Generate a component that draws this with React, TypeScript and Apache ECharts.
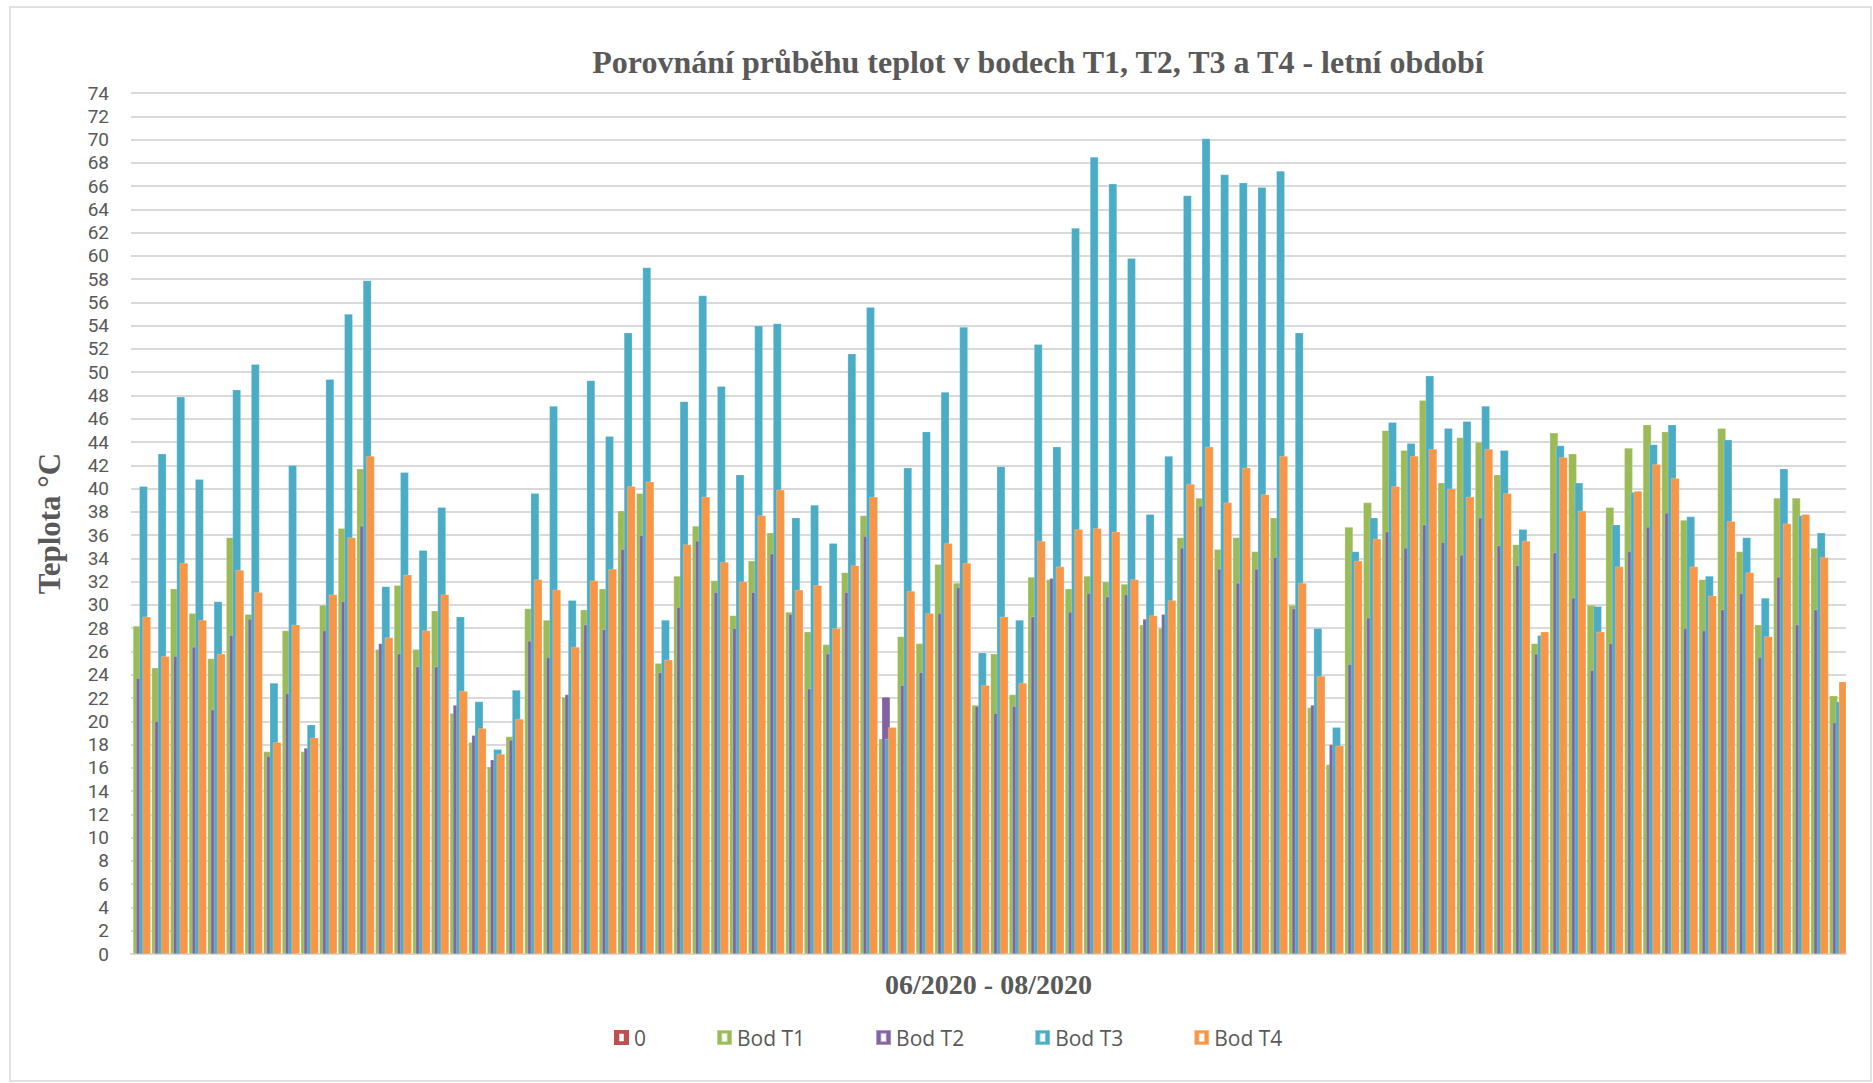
import React, { useEffect, useRef } from "react";
import * as echarts from "echarts";

const TITLE = "Porovnání průběhu teplot v bodech T1, T2, T3 a T4 - letní období";
const X_NAME = "06/2020 - 08/2020";
const Y_NAME = "Teplota °C";

const MONTHS = [6, 7, 8];
const DAYS_IN_MONTH = [30, 31, 31];
const categories: string[] = [];
MONTHS.forEach((m, i) => {
  for (let d = 1; d <= DAYS_IN_MONTH[i]; d++) categories.push(`${d}.${m}.2020`);
});

const SERIES_NAMES = ["0", "Bod T1", "Bod T2", "Bod T3", "Bod T4"];
const COLORS = ["#C0504D", "#9BBB59", "#8064A2", "#4BACC6", "#F79646"];

const zero = [
  0, 0, 0, 0, 0, 0, 0, 0, 0, 0, 0, 0, 0, 0, 0, 0, 0, 0, 0, 0, 0, 0, 0,
  0, 0, 0, 0, 0, 0, 0, 0, 0, 0, 0, 0, 0, 0, 0, 0, 0, 0, 0, 0, 0, 0, 0,
  0, 0, 0, 0, 0, 0, 0, 0, 0, 0, 0, 0, 0, 0, 0, 0, 0, 0, 0, 0, 0, 0, 0,
  0, 0, 0, 0, 0, 0, 0, 0, 0, 0, 0, 0, 0, 0, 0, 0, 0, 0, 0, 0, 0, 0, 0,
];

const bodT1 = [
  28.2, 24.6, 31.4, 29.3, 25.4, 35.8, 29.2, 17.4, 27.8, 17.4, 30.0, 36.6, 41.7, 26.2, 31.7, 26.2, 29.5, 20.7, 18.2, 16.1,
  18.7, 29.7, 28.7, 22.1, 29.6, 31.4, 38.1, 39.6, 25.0, 32.5, 36.8, 32.1, 29.1, 33.8, 36.2, 29.4, 27.7, 26.6, 32.8, 37.7,
  18.5, 27.3, 26.7, 33.5, 31.9, 21.4, 25.8, 22.3, 32.4, 32.2, 31.4, 32.5, 32.0, 31.8, 28.3, 28.0, 35.8, 39.2, 34.8, 35.8,
  34.6, 37.5, 30.0, 21.2, 16.3, 36.7, 38.8, 45.0, 43.3, 47.6, 40.5, 44.4, 44.0, 41.2, 35.2, 26.7, 44.8, 43.0, 30.0, 38.4,
  43.5, 45.5, 44.9, 37.3, 32.2, 45.2, 34.6, 28.3, 39.2, 39.2, 34.9, 22.2,
];

const bodT2 = [
  23.7, 20.0, 25.6, 26.4, 21.0, 27.4, 28.8, 17.0, 22.4, 17.7, 27.8, 30.3, 36.8, 26.7, 25.8, 24.7, 24.7, 21.4, 18.8, 16.7,
  18.4, 26.9, 25.5, 22.3, 28.3, 27.9, 34.8, 36.0, 24.2, 29.8, 35.5, 31.1, 28.0, 31.1, 34.4, 29.2, 22.8, 25.8, 31.1, 35.9,
  22.1, 23.1, 24.2, 29.3, 31.5, 21.3, 20.7, 21.3, 29.0, 32.3, 29.4, 31.0, 30.7, 30.9, 28.8, 29.2, 34.9, 38.5, 33.1, 31.9,
  33.1, 34.1, 29.7, 21.4, 18.0, 24.9, 28.9, 36.3, 34.9, 36.9, 35.4, 34.3, 37.5, 35.1, 33.4, 25.8, 34.5, 30.6, 24.4, 26.7,
  34.6, 36.7, 37.9, 28.0, 27.8, 29.6, 31.0, 25.5, 32.4, 28.3, 29.6, 19.9,
];

const bodT3 = [
  40.2, 43.0, 47.9, 40.8, 30.3, 48.5, 50.7, 23.3, 42.0, 19.7, 49.4, 55.0, 57.9, 31.6, 41.4, 34.7, 38.4, 29.0, 21.7, 17.6,
  22.7, 39.6, 47.1, 30.4, 49.3, 44.5, 53.4, 59.0, 28.7, 47.5, 56.6, 48.8, 41.2, 54.0, 54.2, 37.5, 38.6, 35.3, 51.6, 55.6,
  18.5, 41.8, 44.9, 48.3, 53.9, 25.9, 41.9, 28.7, 52.4, 43.6, 62.4, 68.5, 66.2, 59.8, 37.8, 42.8, 65.2, 70.1, 67.0, 66.3,
  65.9, 67.3, 53.4, 28.0, 19.5, 34.6, 37.5, 45.7, 43.9, 49.7, 45.2, 45.8, 47.1, 43.3, 36.5, 27.4, 43.7, 40.5, 29.9, 36.9,
  39.7, 43.8, 45.5, 37.6, 32.5, 44.2, 35.8, 30.6, 41.7, 37.7, 36.2, 21.7,
];

const bodT4 = [
  29.0, 25.6, 33.6, 28.7, 25.8, 33.0, 31.1, 18.2, 28.3, 18.6, 30.9, 35.8, 42.8, 27.2, 32.6, 27.8, 30.9, 22.6, 19.4, 17.2,
  20.2, 32.2, 31.3, 26.4, 32.1, 33.1, 40.2, 40.6, 25.3, 35.2, 39.3, 33.7, 32.0, 37.7, 39.9, 31.3, 31.7, 28.0, 33.4, 39.3,
  19.5, 31.2, 29.3, 35.3, 33.6, 23.1, 29.0, 23.3, 35.5, 33.3, 36.5, 36.6, 36.3, 32.2, 29.1, 30.4, 40.4, 43.6, 38.8, 41.8,
  39.5, 42.8, 31.9, 23.9, 17.9, 33.8, 35.7, 40.2, 42.8, 43.4, 40.0, 39.3, 43.4, 39.6, 35.5, 27.7, 42.7, 38.1, 27.7, 33.3,
  39.8, 42.1, 40.9, 33.3, 30.8, 37.2, 32.8, 27.3, 37.0, 37.8, 34.1, 23.4,
];

const SERIES_DATA = [zero, bodT1, bodT2, bodT3, bodT4];

export default function App() {
  const ref = useRef<HTMLDivElement>(null);

  useEffect(() => {
    if (!ref.current) return;
    const chart = echarts.init(ref.current, null, { renderer: "svg" });

    const series = SERIES_NAMES.map((name, i) => ({
      name,
      type: "bar",
      data: SERIES_DATA[i],
      barWidth: 8.5,
      barGap: "-63%",
      itemStyle: {
        color: COLORS[i],
        borderColor: "rgba(255,255,255,0.35)",
        borderWidth: i === 0 ? 0 : 0.6,
      },
    }));

    chart.setOption({
      animation: false,
      backgroundColor: "#ffffff",
      title: {
        text: TITLE,
        left: 1033,
        top: 41,
        textAlign: "center",
        textStyle: {
          fontFamily: "Liberation Serif",
          fontWeight: "bold",
          fontSize: 32,
          color: "#595959",
        },
      },
      legend: {
        left: 609,
        top: 1022,
        itemWidth: 15,
        itemHeight: 15,
        itemGap: 70,
        icon: "path://M0,0H10V10H0Z M3.5,2.5V7.5H6.5V2.5Z",
        textStyle: { fontFamily: "Open Sans", fontSize: 21, color: "#595959" },
        data: SERIES_NAMES,
      },
      grid: { left: 131, right: 27, top: 93, bottom: 129, containLabel: false },
      xAxis: {
        type: "category",
        data: categories,
        name: X_NAME,
        nameLocation: "middle",
        nameGap: 16,
        nameTextStyle: {
          fontFamily: "Liberation Serif",
          fontWeight: "bold",
          fontSize: 28,
          color: "#595959",
        },
        axisLine: { show: true, lineStyle: { color: "#d9d9d9", width: 2 } },
        axisTick: { show: false },
        axisLabel: { show: false },
      },
      yAxis: {
        type: "value",
        min: 0,
        max: 74,
        interval: 2,
        name: Y_NAME,
        nameLocation: "middle",
        nameRotate: 90,
        nameGap: 66,
        nameTextStyle: {
          fontFamily: "Liberation Serif",
          fontWeight: "bold",
          fontSize: 31,
          color: "#595959",
        },
        axisLine: { show: false },
        axisTick: { show: false },
        axisLabel: {
          fontFamily: "Roboto",
          fontSize: 19,
          lineHeight: 19,
          color: "#595959",
          margin: 22,
        },
        splitLine: { lineStyle: { color: "#d9d9d9", width: 2 } },
      },
      graphic: [
        {
          type: "rect",
          silent: true,
          z: -10,
          shape: { x: 10, y: 7, width: 1861, height: 1074 },
          style: { fill: "none", stroke: "#d9d9d9", lineWidth: 1.5 },
        },
      ],
      series,
    });

    return () => chart.dispose();
  }, []);

  return (
    <div
      ref={ref}
      style={{ position: "fixed", left: 0, top: 0, width: 1873, height: 1083 }}
    />
  );
}
